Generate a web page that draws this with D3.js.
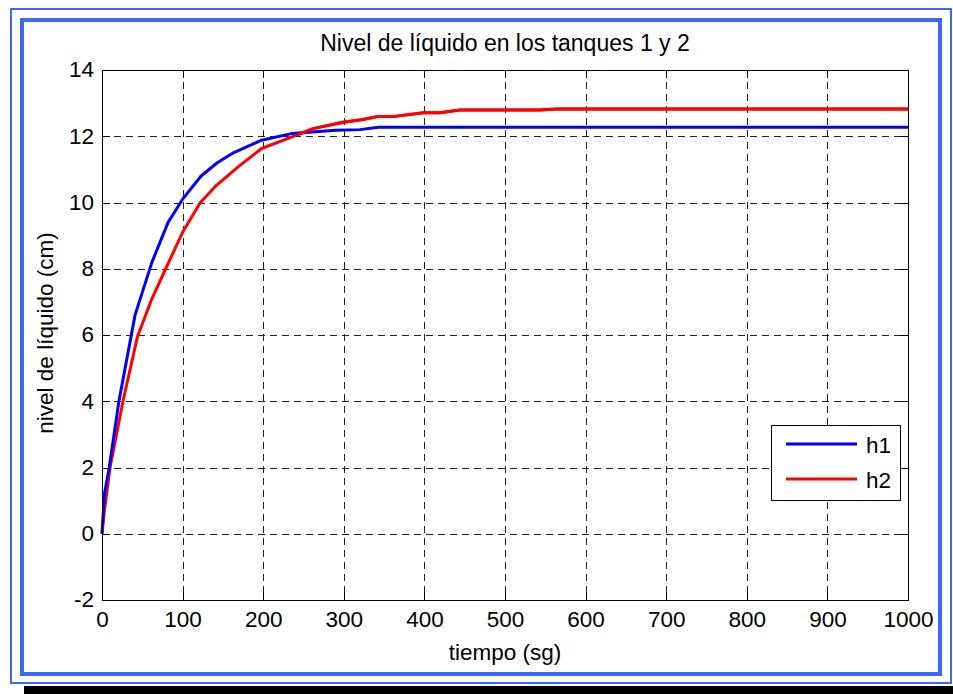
<!DOCTYPE html>
<html>
<head>
<meta charset="utf-8">
<script src="https://cdn.jsdelivr.net/npm/d3@7"></script>
<style>
  html, body { margin: 0; padding: 0; background: #fff; }
  svg { display: block; }
  text { font-family: Arial, "Liberation Sans", Helvetica, sans-serif; fill: #000; }
</style>
</head>
<body>
<svg id="chart" width="953" height="694"></svg>
<script>
// Simulated liquid level in two coupled tanks (time in seconds, level in cm)
const timeH1 = [0, 3, 9, 21, 41, 62, 82, 100, 123, 143, 163, 198, 235, 290, 320, 343, 1000];
const levelH1 = [0, 1.2, 2.0, 4.0, 6.6, 8.2, 9.4, 10.1, 10.8, 11.2, 11.5, 11.88, 12.08, 12.18, 12.2, 12.27, 12.27];

const timeH2 = [0, 3, 10, 26, 44, 62, 79, 100, 122, 142, 170, 198, 243, 262, 299, 322, 343, 363, 399, 419, 444, 543, 564, 1000];
const levelH2 = [0, 0.7, 2.0, 4.0, 5.95, 7.1, 8.0, 9.1, 10.0, 10.52, 11.1, 11.63, 12.05, 12.23, 12.42, 12.5, 12.6, 12.6, 12.71, 12.71, 12.79, 12.79, 12.82, 12.82];

const xTicks = [0, 100, 200, 300, 400, 500, 600, 700, 800, 900, 1000];
const yTicks = [-2, 0, 2, 4, 6, 8, 10, 12, 14];

const seriesNames = ["h1", "h2"];
const seriesColors = ["#0000ff", "#ff0000"];

const titleText = "Nivel de líquido en los tanques 1 y 2";
const xLabelText = "tiempo (sg)";
const yLabelText = "nivel de líquido (cm)";

(function draw() {
  const svg = d3.select("#chart");
  const W = 953;
  const frameBlue = "#3b68f6";
  const fontFam = "Arial, 'Liberation Sans', sans-serif";
  const plainNum = d => String(d);   // ASCII hyphen for negatives

  // Page frame: drop shadow bar, thin outer border, thick inner border
  svg.append("rect").attr("x", 24).attr("y", 686).attr("width", W - 24).attr("height", 8).attr("fill", "#000");
  svg.append("rect").attr("x", 11).attr("y", 9).attr("width", 940).attr("height", 674)
    .attr("fill", "none").attr("stroke", frameBlue).attr("stroke-width", 2);
  svg.append("rect").attr("x", 22).attr("y", 20).attr("width", 918).attr("height", 654)
    .attr("fill", "#fff").attr("stroke", frameBlue).attr("stroke-width", 4);

  // Plot area
  const mLeft = 102, mRight = 908, mTop = 70, mBottom = 600;
  const x = d3.scaleLinear().domain([0, 1000]).range([mLeft, mRight]);
  const y = d3.scaleLinear().domain([-2, 14]).range([mBottom, mTop]);
  const px = v => Math.round(x(v)) + 0.5;
  const py = v => Math.round(y(v)) + 0.5;

  const g = svg.append("g");

  // Dashed grid
  g.append("g").selectAll("line").data(xTicks.slice(1, -1)).join("line")
    .attr("x1", d => px(d)).attr("x2", d => px(d))
    .attr("y1", mTop).attr("y2", mBottom)
    .attr("stroke", "#222").attr("stroke-width", 1).attr("stroke-dasharray", "7,5");
  g.append("g").selectAll("line").data(yTicks.slice(1, -1)).join("line")
    .attr("y1", d => py(d)).attr("y2", d => py(d))
    .attr("x1", mLeft).attr("x2", mRight)
    .attr("stroke", "#222").attr("stroke-width", 1).attr("stroke-dasharray", "7,5");

  // Axes with inward ticks on all four sides
  const tickLen = 8;
  const axisBottom = d3.axisBottom(x).tickValues(xTicks).tickSize(0).tickPadding(0).tickFormat(plainNum);
  const axisLeft = d3.axisLeft(y).tickValues(yTicks).tickSize(0).tickFormat(plainNum);

  const gx = g.append("g").attr("transform", `translate(0,${mBottom})`).call(axisBottom);
  gx.select(".domain").remove();
  gx.selectAll(".tick text").attr("y", 27).attr("dy", 0)
    .attr("font-size", 22.5).attr("font-family", fontFam).attr("fill", "#000");

  const gy = g.append("g").attr("transform", `translate(${mLeft},0)`).call(axisLeft);
  gy.select(".domain").remove();
  gy.selectAll(".tick text").attr("x", -8).attr("dy", "0.3em")
    .attr("font-size", 22.5).attr("font-family", fontFam).attr("fill", "#000");

  const ticks = g.append("g").attr("stroke", "#000").attr("stroke-width", 1);
  xTicks.forEach(d => {
    ticks.append("line").attr("x1", px(d)).attr("x2", px(d)).attr("y1", mBottom).attr("y2", mBottom - tickLen);
    ticks.append("line").attr("x1", px(d)).attr("x2", px(d)).attr("y1", mTop).attr("y2", mTop + tickLen);
  });
  yTicks.forEach(d => {
    ticks.append("line").attr("y1", py(d)).attr("y2", py(d)).attr("x1", mLeft).attr("x2", mLeft + tickLen);
    ticks.append("line").attr("y1", py(d)).attr("y2", py(d)).attr("x1", mRight).attr("x2", mRight - tickLen);
  });

  // Series lines
  const lineGen = d3.line().x(d => x(d[0])).y(d => y(d[1]));
  const seriesData = [d3.zip(timeH1, levelH1), d3.zip(timeH2, levelH2)];
  const plot = g.append("g");
  plot.append("path").datum(seriesData[1]).attr("d", lineGen)
    .attr("fill", "none").attr("stroke", seriesColors[1]).attr("stroke-width", 3).attr("stroke-linejoin", "round");
  plot.append("path").datum(seriesData[0]).attr("d", lineGen)
    .attr("fill", "none").attr("stroke", seriesColors[0]).attr("stroke-width", 3).attr("stroke-linejoin", "round");
  // h2 drawn again past the crossing so it sits on top where it leads
  plot.append("path").datum(seriesData[1].filter(d => d[0] >= 243)).attr("d", lineGen)
    .attr("fill", "none").attr("stroke", seriesColors[1]).attr("stroke-width", 3).attr("stroke-linejoin", "round");

  // Axes box
  g.append("rect").attr("x", mLeft + 0.5).attr("y", mTop + 0.5)
    .attr("width", mRight - mLeft).attr("height", mBottom - mTop)
    .attr("fill", "none").attr("stroke", "#000").attr("stroke-width", 1);

  // Title and axis labels
  svg.append("text").attr("x", (mLeft + mRight) / 2).attr("y", 51).attr("text-anchor", "middle")
    .attr("font-size", 23).text(titleText);
  svg.append("text").attr("x", (mLeft + mRight) / 2).attr("y", 660).attr("text-anchor", "middle")
    .attr("font-size", 22.5).text(xLabelText);
  svg.append("text").attr("transform", "translate(53,333) rotate(-90)").attr("text-anchor", "middle")
    .attr("font-size", 22.5).text(yLabelText);

  // Legend
  const leg = svg.append("g");
  leg.append("rect").attr("x", 771.5).attr("y", 425.5).attr("width", 129).attr("height", 75)
    .attr("fill", "#fff").attr("stroke", "#000").attr("stroke-width", 1);
  seriesNames.forEach((name, i) => {
    const ly = 444 + i * 35;
    leg.append("line").attr("x1", 786).attr("x2", 857).attr("y1", ly).attr("y2", ly)
      .attr("stroke", seriesColors[i]).attr("stroke-width", 3);
    leg.append("text").attr("x", 866).attr("y", ly + 9).attr("font-size", 22.5).text(name);
  });
})();
</script>
</body>
</html>
